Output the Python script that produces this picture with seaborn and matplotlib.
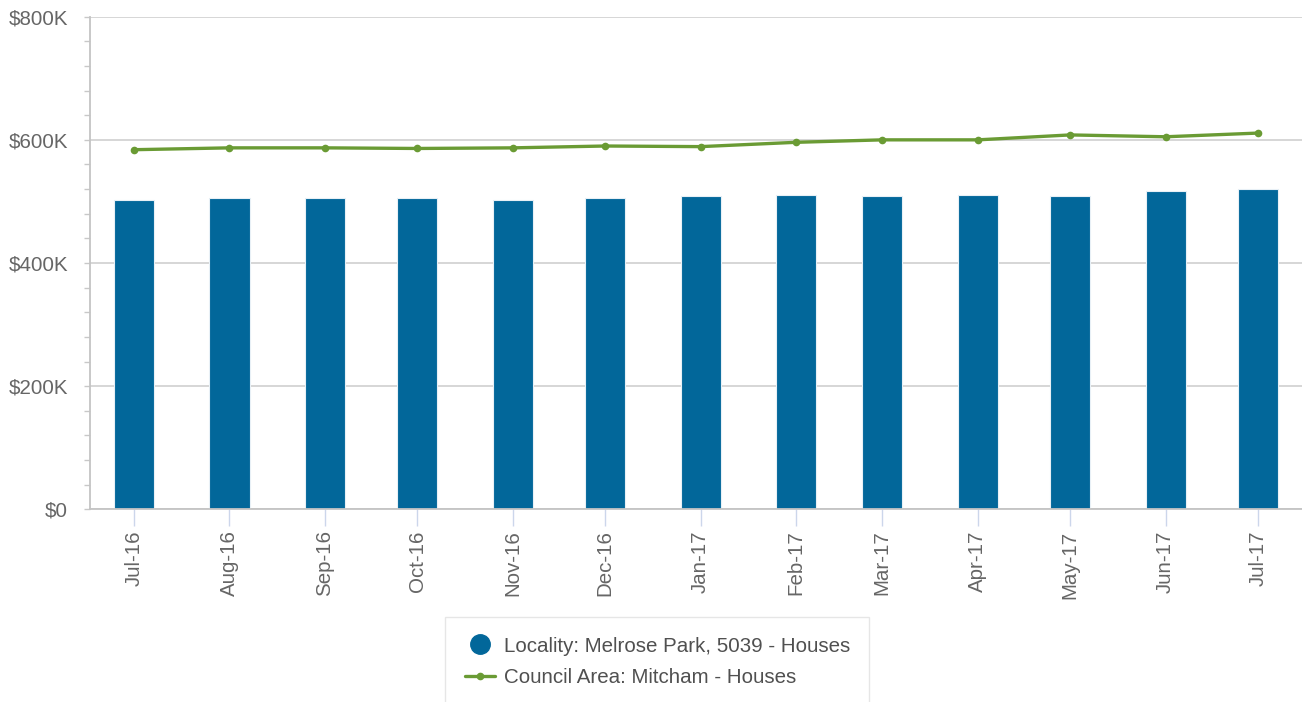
import matplotlib
matplotlib.use("Agg")
import matplotlib.pyplot as plt
import matplotlib.dates as mdates
from matplotlib.lines import Line2D
from matplotlib.ticker import MultipleLocator
import seaborn as sns
import pandas as pd

# ---------------- data ----------------
months = ["2016-07-01", "2016-08-01", "2016-09-01", "2016-10-01", "2016-11-01",
          "2016-12-01", "2017-01-01", "2017-02-01", "2017-03-01", "2017-04-01",
          "2017-05-01", "2017-06-01", "2017-07-01"]
month_labels = ["Jul-16", "Aug-16", "Sep-16", "Oct-16", "Nov-16", "Dec-16", "Jan-17",
                "Feb-17", "Mar-17", "Apr-17", "May-17", "Jun-17", "Jul-17"]
# values in $K
locality_values = [502, 505, 505, 505, 502, 505, 508, 511, 508, 511, 508, 517, 520]
council_values = [584, 587, 587, 586, 587, 590, 589, 596, 600, 600, 608, 605, 611]
y_ticks = [0, 200, 400, 600, 800]
y_tick_labels = ["$0", "$200K", "$400K", "$600K", "$800K"]
series_names = ["Locality: Melrose Park, 5039 - Houses", "Council Area: Mitcham - Houses"]

# ---------------- style ----------------
BLUE = "#02679a"
GREEN = "#6a9b34"
FS = 14.8
sns.set_theme(style="white")
plt.rcParams['font.family'] = ['Liberation Sans', 'DejaVu Sans']

dates = pd.to_datetime(months)
xnum = mdates.date2num(dates)
df = pd.DataFrame({"x": xnum, "locality": locality_values, "council": council_values})

W, H = 1302, 702
fig = plt.figure(figsize=(W / 100, H / 100), dpi=100)
ax = fig.add_axes([90 / W, (H - 509.3) / H, (W - 90) / W, (509.3 - 16.7) / H])

sns.barplot(data=df, x="x", y="locality", native_scale=True, width=13 / 28,
            color=BLUE, saturation=1, edgecolor="#e8f0f6", linewidth=0.8,
            ax=ax, zorder=2)
sns.lineplot(data=df, x="x", y="council", color=GREEN, linewidth=2.4,
             marker="o", markersize=5.5, markeredgewidth=0, ax=ax, zorder=3)

ax.set_xlabel("")
ax.set_ylabel("")
ax.set_ylim(0, 800)
ax.set_xlim(xnum[0] - 14.3, xnum[-1] + 14.3)

ax.set_yticks(y_ticks)
ax.set_yticklabels(y_tick_labels)
ax.yaxis.set_minor_locator(MultipleLocator(40))
ax.set_xticks(xnum)
ax.set_xticklabels(month_labels, rotation=90)

ax.grid(axis="y", which="major", color="#cccccc", linewidth=1.1)
ax.set_axisbelow(True)

ax.tick_params(axis="y", which="both", direction="out", length=4.4, width=1,
               color="#c8c8c8", labelsize=FS, labelcolor="#666666", pad=11.5, left=True)
ax.tick_params(axis="x", which="major", direction="out", length=12.2, width=1,
               color="#ccd6eb", labelsize=FS, labelcolor="#666666", pad=3, bottom=True)

for s in ["top", "right"]:
    ax.spines[s].set_visible(False)
for s in ["left", "bottom"]:
    ax.spines[s].set_color("#c4c4c4")
    ax.spines[s].set_linewidth(1.3)

handles = [
    Line2D([], [], marker="o", color=BLUE, linestyle="none", markersize=14),
    Line2D([], [], color=GREEN, linewidth=2.4, marker="o", markersize=4.5),
]
leg = fig.legend(handles, series_names, loc="upper left",
                 bbox_to_anchor=(445 / W, 1 - 617 / H), fontsize=FS,
                 frameon=True, fancybox=False, framealpha=1, edgecolor="#e6e6e6",
                 borderpad=0.95, labelspacing=0.6, handlelength=1.5,
                 handletextpad=0.4, borderaxespad=0)
leg.get_frame().set_linewidth(1)
for t in leg.get_texts():
    t.set_color("#505050")

fig.savefig("out.png", dpi=100)
